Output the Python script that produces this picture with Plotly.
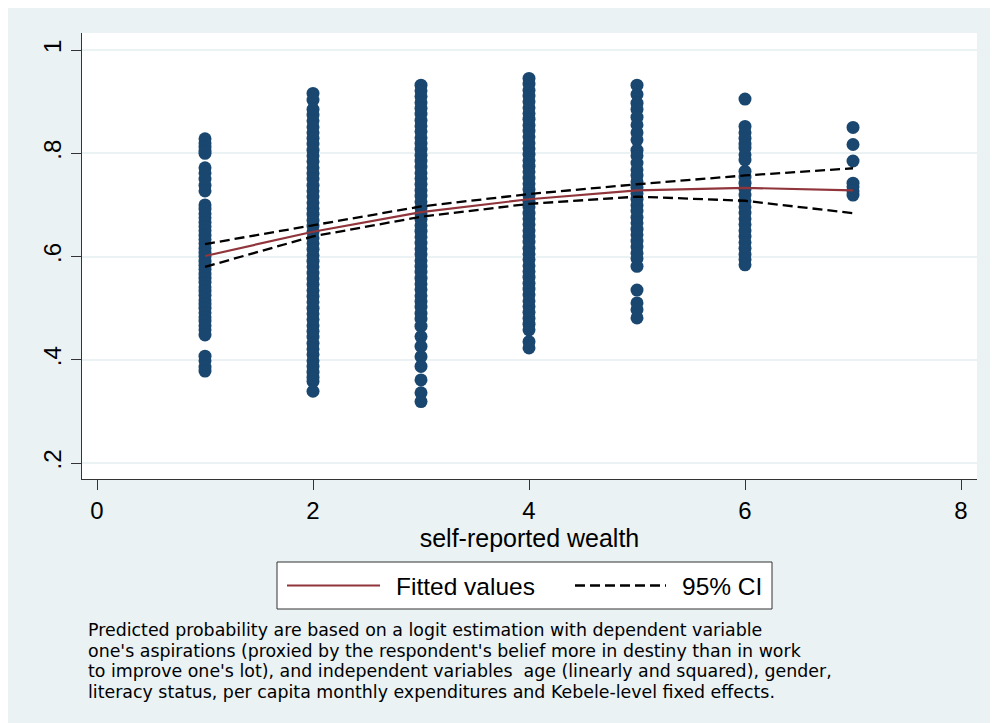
import plotly.graph_objects as go

# ---- data -------------------------------------------------------------
wealth_levels = [1, 2, 3, 4, 5, 6, 7]

prob_w1 = [0.828, 0.820, 0.812, 0.805, 0.800,
           0.772, 0.762, 0.750, 0.738, 0.727,
           0.700, 0.692, 0.683, 0.675, 0.666, 0.658, 0.650, 0.641, 0.633, 0.625,
           0.616, 0.608, 0.600, 0.591, 0.583, 0.575, 0.566, 0.558, 0.550, 0.541,
           0.533, 0.525, 0.516, 0.508, 0.500, 0.491, 0.483, 0.475, 0.466, 0.458,
           0.448, 0.407, 0.398, 0.386, 0.378]
prob_w2 = [0.916, 0.903, 0.885, 0.874, 0.863, 0.851, 0.840, 0.829, 0.818, 0.806,
           0.795, 0.784, 0.772, 0.761, 0.750, 0.738, 0.727, 0.716, 0.704, 0.693,
           0.682, 0.670, 0.659, 0.648, 0.636, 0.625, 0.614, 0.602, 0.591, 0.580,
           0.568, 0.557, 0.546, 0.534, 0.523, 0.512, 0.500, 0.489, 0.478, 0.466,
           0.455, 0.444, 0.432, 0.421, 0.410, 0.398, 0.387, 0.376, 0.366, 0.358,
           0.339]
prob_w3 = [0.932, 0.921, 0.910, 0.898, 0.887, 0.876, 0.864, 0.853, 0.842, 0.830,
           0.819, 0.808, 0.796, 0.785, 0.774, 0.762, 0.751, 0.740, 0.728, 0.717,
           0.706, 0.694, 0.683, 0.672, 0.660, 0.649, 0.638, 0.626, 0.615, 0.604,
           0.592, 0.581, 0.570, 0.558, 0.547, 0.536, 0.524, 0.513, 0.502, 0.490,
           0.479, 0.465, 0.445, 0.426, 0.406, 0.387, 0.361, 0.336, 0.319]
prob_w4 = [0.945, 0.934, 0.922, 0.911, 0.900, 0.888, 0.877, 0.866, 0.854, 0.843,
           0.832, 0.820, 0.809, 0.798, 0.786, 0.775, 0.764, 0.752, 0.741, 0.730,
           0.718, 0.707, 0.696, 0.684, 0.673, 0.662, 0.650, 0.639, 0.628, 0.616,
           0.605, 0.594, 0.582, 0.571, 0.560, 0.548, 0.537, 0.526, 0.514, 0.503,
           0.492, 0.480, 0.469, 0.458, 0.435, 0.423]
prob_w5 = [0.932, 0.914, 0.897, 0.885, 0.870, 0.855, 0.840, 0.826,
           0.806, 0.795, 0.781,
           0.768, 0.757, 0.745, 0.734, 0.722, 0.711, 0.699, 0.688, 0.676, 0.665,
           0.653, 0.642, 0.630, 0.619, 0.607, 0.596, 0.581,
           0.535, 0.510, 0.497, 0.481]
prob_w6 = [0.905,
           0.852, 0.840, 0.829, 0.818, 0.810, 0.797, 0.787,
           0.765, 0.754, 0.742, 0.731, 0.719, 0.708, 0.696, 0.685, 0.673, 0.662,
           0.650, 0.639, 0.627, 0.616, 0.604, 0.594, 0.584]
prob_w7 = [0.850, 0.817, 0.785, 0.742, 0.735, 0.727, 0.719]

fitted = [0.601, 0.648, 0.686, 0.711, 0.728, 0.733, 0.728]
ci_upper = [0.624, 0.661, 0.697, 0.721, 0.740, 0.757, 0.771]
ci_lower = [0.580, 0.639, 0.677, 0.702, 0.716, 0.708, 0.684]

x_ticks = [0, 2, 4, 6, 8]
y_ticks = [0.2, 0.4, 0.6, 0.8, 1.0]
y_tick_labels = [".2", ".4", ".6", ".8", "1"]

legend_labels = ["Fitted values", "95% CI"]
x_title = "self-reported wealth"
note_lines = [
    "Predicted probability are based on a logit estimation with dependent variable",
    "one's aspirations (proxied by the respondent's belief more in destiny than in work",
    "to improve one's lot), and independent variables&nbsp; age (linearly and squared), gender,",
    "literacy status, per capita monthly expenditures and Kebele-level fixed effects.",
]

# ---- styling ------------------------------------------------------------
W, H = 992, 723
PLOT_L, PLOT_R, PLOT_T, PLOT_B = 82, 977, 33, 479
NAVY = "#1A476F"
CRANBERRY = "#90353B"
GRAPH_BG = "#EAF2F3"
FONT = "Liberation Sans, Arial, sans-serif"
NOTE_FONT = "DejaVu Sans, Verdana, sans-serif"


def px_x(px):
    return (px - PLOT_L) / (PLOT_R - PLOT_L)


def px_y(py):
    return (PLOT_B - py) / (PLOT_B - PLOT_T)


groups = [prob_w1, prob_w2, prob_w3, prob_w4, prob_w5, prob_w6, prob_w7]
scatter_x, scatter_y = [], []
for lvl, vals in zip(wealth_levels, groups):
    scatter_x += [lvl] * len(vals)
    scatter_y += vals

fig = go.Figure()
fig.add_trace(go.Scatter(
    x=scatter_x, y=scatter_y, mode="markers",
    marker=dict(color=NAVY, size=13, line=dict(width=0)),
    showlegend=False, hoverinfo="skip"))
for band in (ci_upper, ci_lower):
    fig.add_trace(go.Scatter(
        x=wealth_levels, y=band, mode="lines",
        line=dict(color="black", width=2.3, dash="10px,5px"),
        showlegend=False, hoverinfo="skip"))
fig.add_trace(go.Scatter(
    x=wealth_levels, y=fitted, mode="lines",
    line=dict(color=CRANBERRY, width=2.2),
    showlegend=False, hoverinfo="skip"))

shapes = [
    # white frame around the light graph region
    dict(type="rect", xref="paper", yref="paper", layer="above",
         x0=px_x(0), x1=px_x(W), y0=px_y(0), y1=px_y(8),
         fillcolor="white", line=dict(width=0)),
    dict(type="rect", xref="paper", yref="paper", layer="above",
         x0=px_x(0), x1=px_x(8), y0=px_y(0), y1=px_y(H),
         fillcolor="white", line=dict(width=0)),
    dict(type="rect", xref="paper", yref="paper", layer="above",
         x0=px_x(990), x1=px_x(W), y0=px_y(0), y1=px_y(H),
         fillcolor="white", line=dict(width=0)),
    # legend box
    dict(type="rect", xref="paper", yref="paper",
         x0=px_x(277), x1=px_x(772), y0=px_y(562), y1=px_y(609),
         fillcolor="white", line=dict(color="#333333", width=1)),
    dict(type="line", xref="paper", yref="paper",
         x0=px_x(287), x1=px_x(380), y0=px_y(585.5), y1=px_y(585.5),
         line=dict(color=CRANBERRY, width=2.2)),
    dict(type="line", xref="paper", yref="paper",
         x0=px_x(575), x1=px_x(666), y0=px_y(585.5), y1=px_y(585.5),
         line=dict(color="black", width=2.3, dash="10px,5px")),
]

annotations = [
    dict(xref="paper", yref="paper", x=px_x(394), y=px_y(586),
         xanchor="left", yanchor="middle", showarrow=False,
         text=legend_labels[0], font=dict(family=FONT, size=24.5, color="black")),
    dict(xref="paper", yref="paper", x=px_x(680), y=px_y(586),
         xanchor="left", yanchor="middle", showarrow=False,
         text=legend_labels[1], font=dict(family=FONT, size=24.5, color="black")),
]
for i, line in enumerate(note_lines):
    annotations.append(dict(
        xref="paper", yref="paper", x=px_x(86), y=px_y(630 + 20.6 * i),
        xanchor="left", yanchor="middle", showarrow=False, text=line,
        font=dict(family=NOTE_FONT, size=17.4, color="black")))

fig.update_layout(
    width=W, height=H,
    margin=dict(l=PLOT_L, r=W - PLOT_R, t=PLOT_T, b=H - PLOT_B, pad=0),
    paper_bgcolor=GRAPH_BG, plot_bgcolor="white",
    font=dict(family=FONT, color="black"),
    shapes=shapes, annotations=annotations, showlegend=False,
)
fig.update_xaxes(
    range=[-0.139, 8.148], tickvals=x_ticks, ticks="outside", ticklen=10,
    tickwidth=1, tickcolor="#333333", showline=True, linecolor="#333333",
    linewidth=1, showgrid=False, zeroline=False,
    tickfont=dict(size=24, color="black"),
    title=dict(text=x_title, font=dict(size=25, color="black"), standoff=4),
)
fig.update_yaxes(
    range=[0.169, 1.033], tickvals=y_ticks, ticktext=y_tick_labels,
    tickangle=-90, ticks="outside", ticklen=10, tickwidth=1,
    tickcolor="#333333", showline=True, linecolor="#333333", linewidth=1,
    showgrid=True, gridcolor=GRAPH_BG, gridwidth=2, zeroline=False,
    tickfont=dict(size=24, color="black"),
)

fig.write_html("out.html")
